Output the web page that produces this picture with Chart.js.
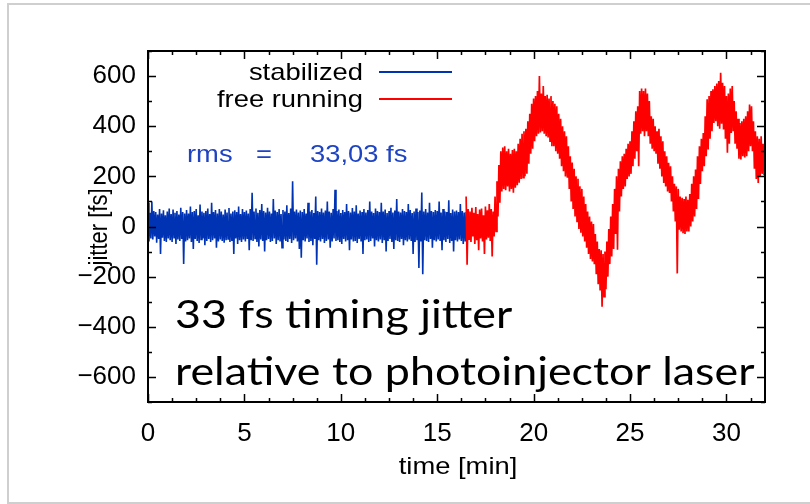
<!DOCTYPE html>
<html>
<head>
<meta charset="utf-8">
<script src="https://cdn.jsdelivr.net/npm/chart.js@4.4.0/dist/chart.umd.min.js"></script>
<style>
  html, body { margin: 0; padding: 0; background: #fff; }
  #wrap { width: 810px; height: 504px; }
</style>
</head>
<body>
<div id="wrap"><canvas id="jitterChart" width="810" height="504"></canvas></div>
<script>
// time base of both traces, in minutes
const sampleStep = 0.05;
const stabilizedStart = 0;
const freeRunningStart = 16.5;

// jitter [fs], stabilized loop (0 .. 16.5 min)
const stabilized = [
  95, -60, 55, -48, 100, -52, 62, -40, 58, -65, 48, -50, 70, -110, 52, -45, 65, -58, 45, -62,
  60, -48, 72, -55, 50, -62, 68, -45, 55, -70, 62, -52, 48, -58, 75, -50, 58, -150, 52, -60,
  66, -55, 52, -48, 80, -62, 58, -90, 62, -50, 70, -58, 45, -66, 88, -52, 60, -48, 55, -75,
  62, -58, 72, -50, 50, -62, 95, -55, 58, -48, 66, -85, 52, -60, 70, -52, 60, -58, 48, -65,
  68, -55, 56, -50, 74, -62, 52, -58, 60, -110, 65, -48, 58, -70, 80, -55, 50, -62, 70, -52,
  58, -60, 64, -50, 52, -95, 70, -55, 135, -58, 60, -48, 72, -62, 55, -80, 66, -52, 90, -58,
  62, -100, 56, -55, 75, -50, 60, -62, 52, -58, 110, -48, 64, -70, 58, -55, 70, -60, 50, -85,
  66, -52, 60, -58, 85, -62, 54, -50, 72, -66, 180, -55, 60, -48, 68, -60, 56, -90, 64, -125,
  58, -55, 70, -60, 52, -48, 95, -62, 60, -58, 66, -75, 54, -50, 120, -153, 62, -55, 58, -60,
  72, -50, 56, -66, 64, -58, 100, -52, 60, -85, 55, -60, 70, -48, 147, -58, 62, -55, 68, -62,
  54, -70, 66, -50, 58, -60, 90, -55, 62, -95, 56, -52, 74, -60, 60, -58, 85, -66, 52, -50,
  64, -60, 58, -110, 70, -55, 56, -52, 66, -62, 100, -58, 60, -48, 54, -80, 72, -55, 62, -60,
  58, -52, 95, -66, 60, -55, 68, -100, 54, -58, 62, -50, 75, -62, 56, -90, 64, -55, 110, -58,
  60, -62, 56, -50, 70, -75, 62, -55, 58, -60, 90, -52, 66, -58, 54, -110, 60, -62, 72, -55,
  58, -165, 64, -60, 136, -190, 60, -55, 70, -58, 56, -62, 95, -50, 62, -85, 58, -55, 66, -60,
  62, -52, 100, -58, 56, -95, 70, -55, 60, -62, 58, -50, 105, -66, 54, -58, 68, -100, 60, -55,
  64, -60, 58, -52, 90, -58, 62, -70, 56, -60, 58
];

// jitter [fs], free running (16.5 .. 32 min)
const freeRunning = [
  120, -153, 70, -50, 60, -62, 75, -40, 55, -70, 78, -55, 50, -95, 68, -48, 72, -60, 45, -110,
  80, -52, 65, -45, 90, -58, 70, -120, 60, -40,
  120, -20, 180, 40, 245, 95, 300, 140, 315, 150, 320, 145, 300, 160, 310, 140, 290, 150, 305, 135,
  310, 155, 300, 165, 330, 175, 350, 190, 370, 195, 380, 200, 390, 210, 420, 250, 450, 290, 490, 310,
  510, 340, 520, 360, 540, 370, 600, 375, 530, 380, 560, 370, 520, 360, 525, 355, 510, 340, 520, 320,
  500, 320, 490, 300, 480, 290, 450, 270, 430, 240, 400, 220, 380, 200, 360, 195, 320, 150, 280, 100,
  255, 70, 230, 40, 200, 20, 190, -10, 160, -25, 150, -40, 120, -60, 90, -85, 60, -110, 40, -130,
  20, -140, 10, -150, -30, -190, -60, -230, -90, -255, -95, -320, -110, -280, -100, -250, -60, -200, -10, -150,
  40, -120, 90, -90, 150, -30, 200, -93, 230, 60, 260, 120, 280, 150, 290, 160, 310, 190, 330, 200,
  340, 210, 380, 240, 420, 270, 460, 300, 480, 240, 540, 370, 550, 380, 540, 360, 550, 380, 530, 360,
  500, 330, 440, 310, 430, 300, 400, 290, 380, 250, 390, 230, 360, 200, 340, 174, 300, 160, 280, 140,
  254, 134, 240, 100, 200, 60, 170, 20, 160, -187, 150, -13, 120, -20, 115, -27, 110, -30, 120, -20,
  107, -20, 130, 0, 170, 20, 200, 40, 227, 70, 280, 110, 320, 170, 350, 220, 373, 240, 440, 280,
  507, 307, 520, 350, 540, 380, 547, 413, 560, 420, 570, 400, 580, 390, 613, 410, 573, 387, 560, 350,
  520, 294, 530, 330, 550, 373, 560, 380, 500, 330, 460, 310, 430, 270, 413, 267, 420, 280, 430, 275,
  440, 280, 460, 300, 487, 320, 480, 300, 420, 230, 380, 190, 360, 174, 350, 200, 360, 210, 330, 205,
  293
];

const xTickValues = [0, 5, 10, 15, 20, 25, 30];
const yTickValues = [-600, -400, -200, 0, 200, 400, 600];

const stabilizedPoints = stabilized.map((v, i) => ({ x: stabilizedStart + i * sampleStep, y: v }));
const freeRunningPoints = freeRunning.map((v, i) => ({ x: freeRunningStart + i * sampleStep, y: v }));

const sansFont = '"Liberation Sans", Arial, sans-serif';
const stretch = 1.14; // the source picture is a bit wider than tall

// text drawn a little wider, like in the source
function wideText(ctx, txt, x, y, sx) {
  ctx.save();
  ctx.translate(x, y);
  ctx.scale(sx, 1);
  ctx.fillText(txt, 0, 0);
  ctx.restore();
}

// frame, inward tick marks, key and the text notes drawn on the plot
const overlay = {
  id: 'overlay',
  afterDatasetsDraw(chart) {
    const ctx = chart.ctx;
    const area = chart.chartArea;
    const xs = chart.scales.x;
    const ys = chart.scales.y;
    ctx.save();

    // outer grey border of the picture
    ctx.strokeStyle = '#cfcfcf';
    ctx.lineWidth = 2;
    ctx.strokeRect(8, 4, 830, 499);

    // plot frame
    ctx.strokeStyle = '#000';
    ctx.lineWidth = 2;
    ctx.strokeRect(area.left, area.top, area.right - area.left, area.bottom - area.top);

    // tick marks pointing into the plot
    ctx.lineWidth = 1.5;
    ctx.beginPath();
    for (let t = 0; t <= 32; t += 1.25) {
      const px = Math.round(xs.getPixelForValue(t)) + 0.5;
      const len = (t % 5 === 0) ? 8 : 4;
      ctx.moveTo(px, area.bottom); ctx.lineTo(px, area.bottom - len);
      ctx.moveTo(px, area.top); ctx.lineTo(px, area.top + len);
    }
    for (let v = -700; v <= 700; v += 100) {
      const py = Math.round(ys.getPixelForValue(v)) + 0.5;
      const len = (v % 200 === 0) ? 8 : 4;
      ctx.moveTo(area.left, py); ctx.lineTo(area.left + len, py);
      ctx.moveTo(area.right, py); ctx.lineTo(area.right - len, py);
    }
    ctx.stroke();

    // key
    ctx.font = '24px ' + sansFont;
    ctx.fillStyle = '#000';
    ctx.textAlign = 'right';
    ctx.textBaseline = 'middle';
    wideText(ctx, 'stabilized', 363, 73, stretch);
    wideText(ctx, 'free running', 363, 100, stretch);
    ctx.lineWidth = 2;
    ctx.strokeStyle = '#0033b3';
    ctx.beginPath(); ctx.moveTo(379, 72); ctx.lineTo(452, 72); ctx.stroke();
    ctx.strokeStyle = '#ff0000';
    ctx.beginPath(); ctx.moveTo(379, 99); ctx.lineTo(452, 99); ctx.stroke();

    // rms note
    ctx.fillStyle = '#1f44c2';
    ctx.textAlign = 'left';
    wideText(ctx, 'rms', 187, 155, stretch);
    wideText(ctx, '=', 256, 155, stretch);
    wideText(ctx, '33,03 fs', 310, 155, stretch);

    // big caption
    ctx.fillStyle = '#000';
    ctx.font = '38px Lato, "Open Sans", sans-serif';
    ctx.textBaseline = 'alphabetic';
    wideText(ctx, '33 fs timing jitter', 175, 328, 1.18);
    wideText(ctx, 'relative to photoinjector laser', 175, 385, 1.18);

    // axis titles
    ctx.font = '24px ' + sansFont;
    ctx.textAlign = 'center';
    ctx.textBaseline = 'middle';
    wideText(ctx, 'time [min]', 458, 467, stretch);
    ctx.translate(100, 227);
    ctx.rotate(-Math.PI / 2);
    ctx.scale(1, stretch);
    ctx.font = '22px ' + sansFont;
    ctx.fillText('jitter [fs]', 0, 0);

    ctx.restore();
  }
};

new Chart(document.getElementById('jitterChart'), {
  type: 'line',
  data: {
    datasets: [
      {
        label: 'free running',
        data: freeRunningPoints,
        borderColor: '#ff0000',
        borderWidth: 1.7,
        pointRadius: 0,
        tension: 0
      },
      {
        label: 'stabilized',
        data: stabilizedPoints,
        borderColor: '#0033b3',
        borderWidth: 1.6,
        pointRadius: 0,
        tension: 0
      }
    ]
  },
  options: {
    responsive: false,
    animation: false,
    layout: { padding: { top: 51, right: 45, left: 0, bottom: 0 } },
    plugins: { legend: { display: false }, tooltip: { enabled: false } },
    scales: {
      x: {
        type: 'linear',
        min: 0,
        max: 32,
        grid: { display: false, drawTicks: false },
        border: { display: false },
        ticks: { padding: 16, color: '#000', font: { family: sansFont, size: 26 }, maxRotation: 0, autoSkip: false },
        afterBuildTicks: s => { s.ticks = xTickValues.map(v => ({ value: v })); },
        afterFit: s => { s.height = 102; }
      },
      y: {
        min: -700,
        max: 700,
        grid: { display: false, drawTicks: false },
        border: { display: false },
        ticks: {
          padding: 12, color: '#000', font: { family: sansFont, size: 26 }, autoSkip: false,
          callback: v => (v < 0 ? '\u2212' + Math.abs(v) : String(v))
        },
        afterBuildTicks: s => { s.ticks = yTickValues.map(v => ({ value: v })); },
        afterFit: s => { s.width = 148; }
      }
    }
  },
  plugins: [overlay]
});
</script>
</body>
</html>
